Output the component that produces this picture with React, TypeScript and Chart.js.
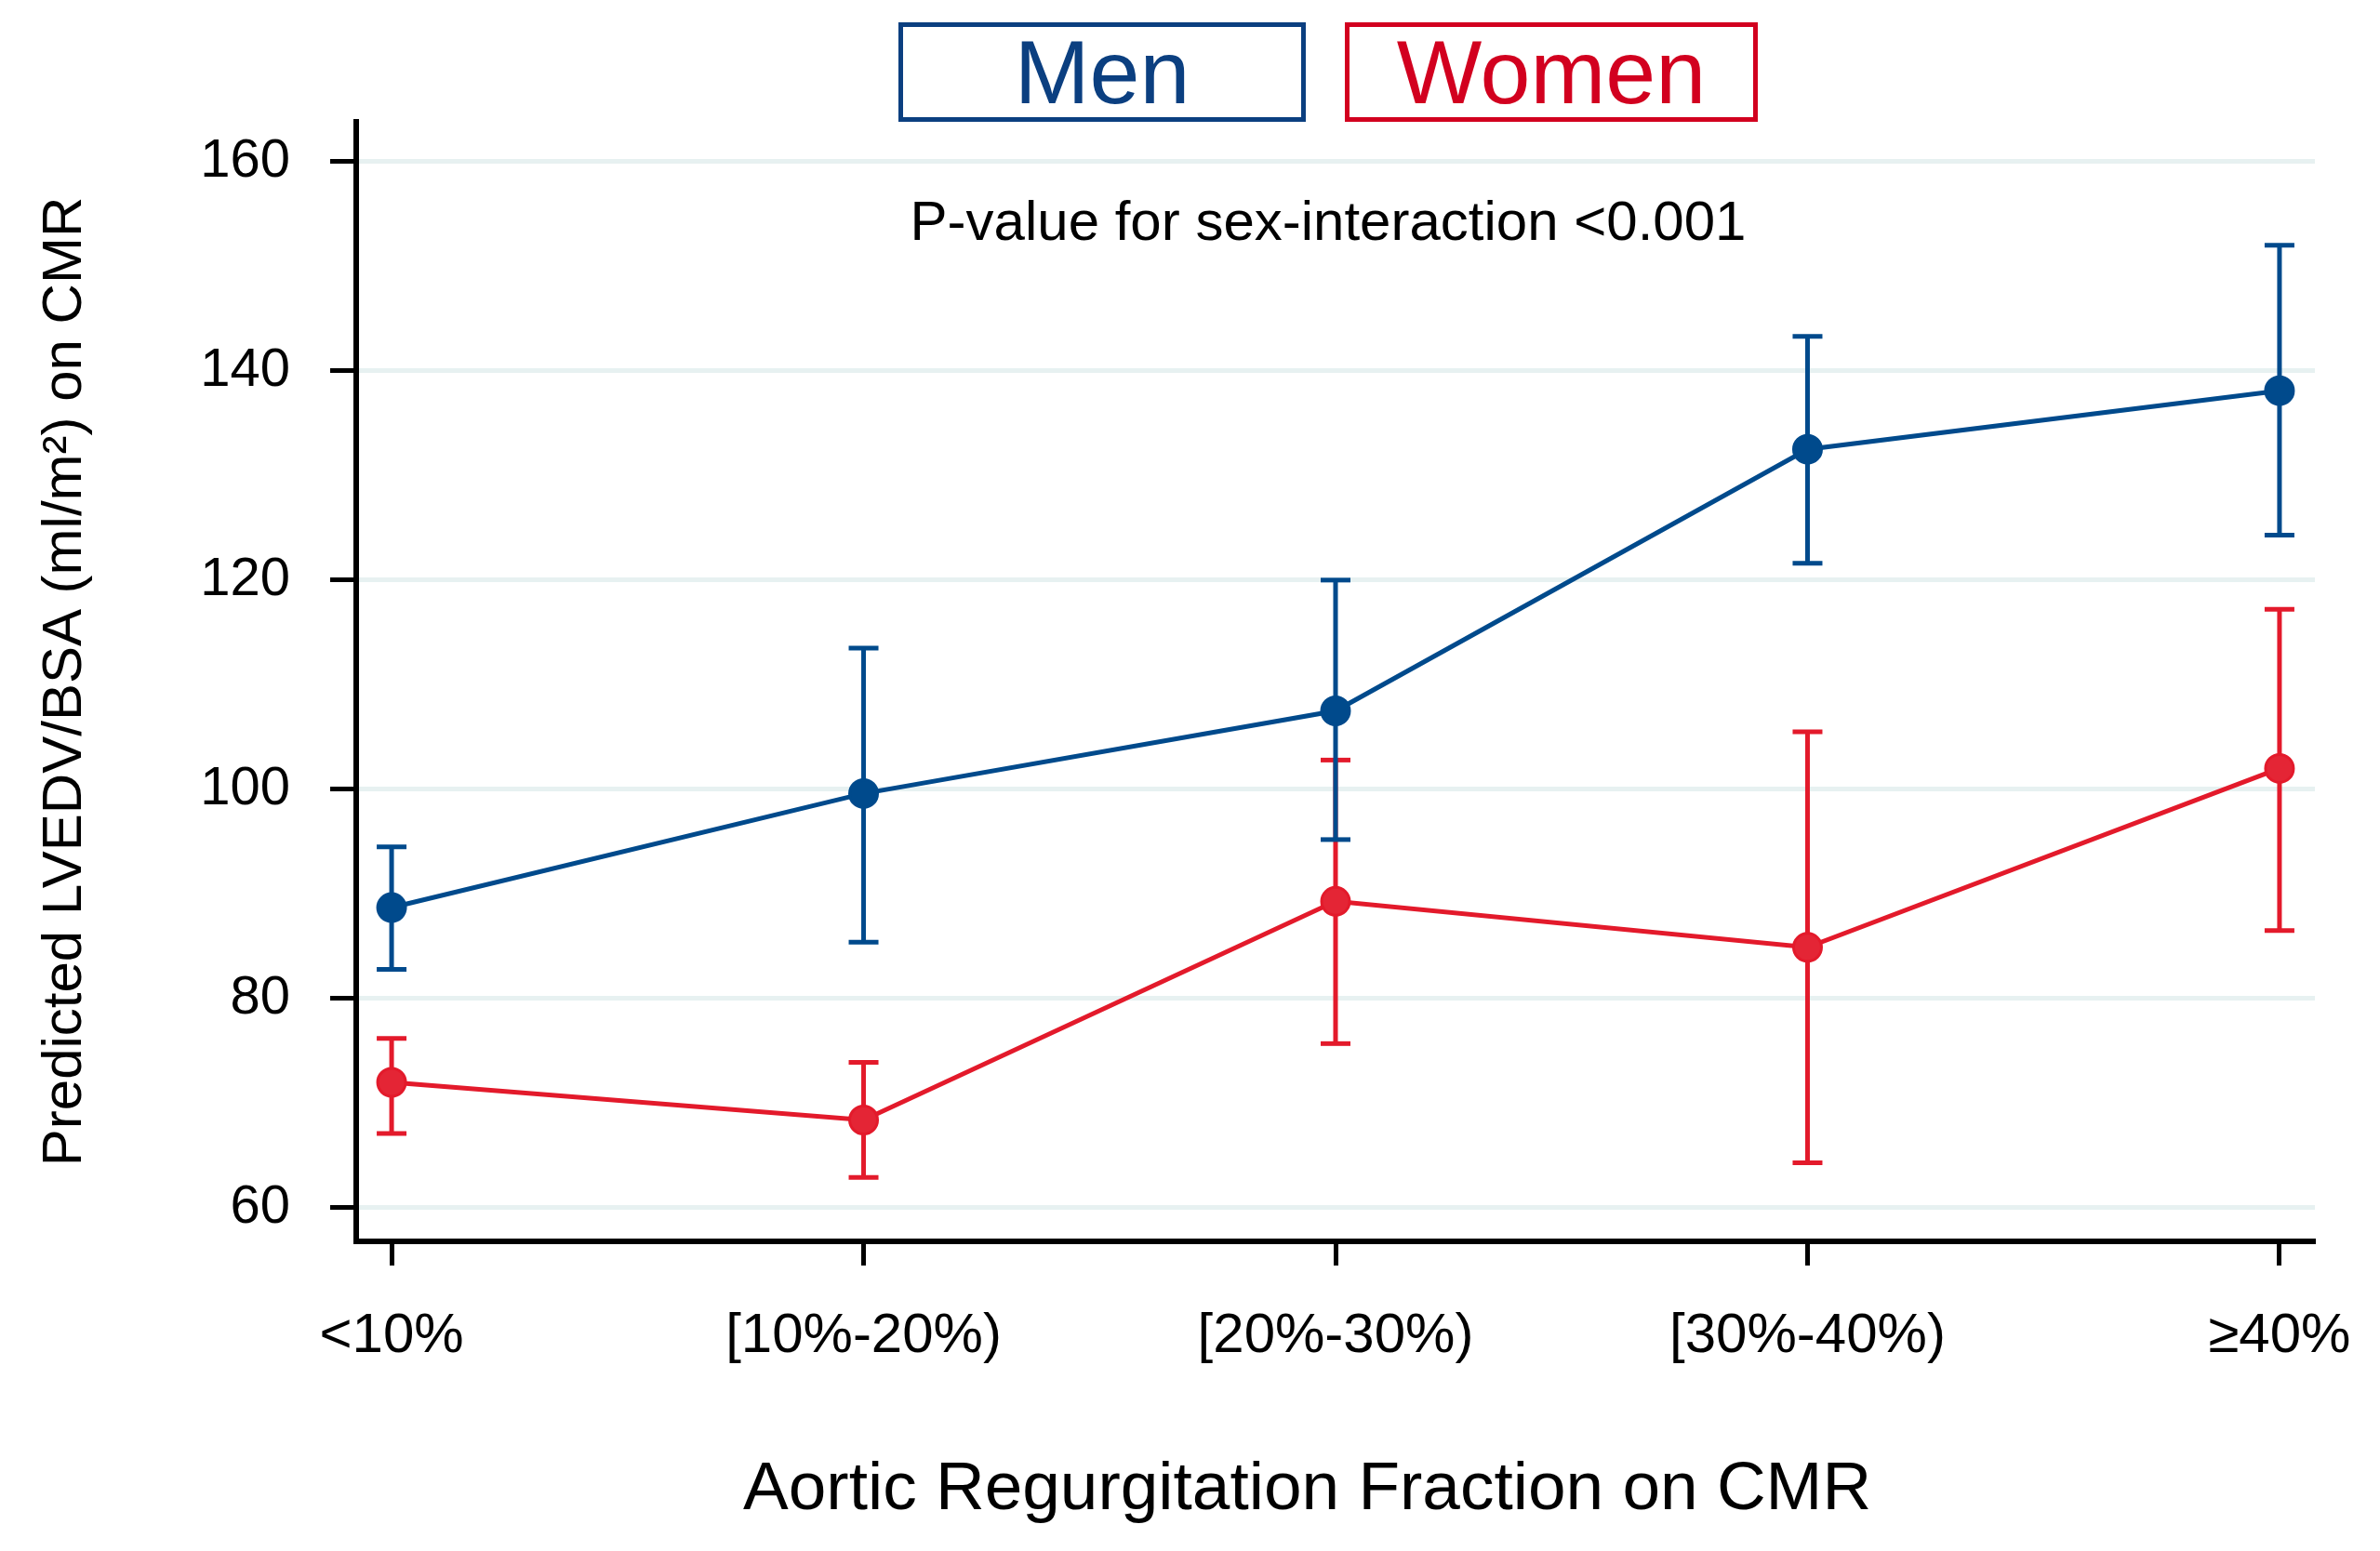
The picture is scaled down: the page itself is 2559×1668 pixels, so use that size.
import React, { useEffect, useRef } from "react";
import { Chart, registerables } from "chart.js";

Chart.register(...registerables);

const categories = ["<10%", "[10%-20%)", "[20%-30%)", "[30%-40%)", "≥40%"];
const yTickValues = [60, 80, 100, 120, 140, 160];

const menMean = [88.7, 99.6, 107.5, 132.5, 138.1];
const menLower = [82.8, 85.4, 95.2, 121.6, 124.3];
const menUpper = [94.5, 113.5, 120.0, 143.3, 152.0];

const womenMean = [72.0, 68.4, 89.3, 84.9, 102.0];
const womenLower = [67.1, 62.9, 75.7, 64.3, 86.5];
const womenUpper = [76.2, 73.9, 102.8, 105.5, 117.2];

const MEN = "#004a8c";
const WOMEN = "#e31a2b";
const FONT = "'Liberation Sans', Arial, Helvetica, sans-serif";

function errorBarSets(lo: number[], hi: number[], color: string, name: string) {
  return lo.map((l, i) => ({
    label: `${name} CI ${categories[i]}`,
    data: [
      { x: i, y: l },
      { x: i, y: hi[i] },
    ],
    borderColor: color,
    backgroundColor: color,
    borderWidth: 5,
    showLine: true,
    pointStyle: "line" as const,
    pointRadius: 16,
    pointBorderWidth: 5,
    pointBorderColor: color,
    pointBackgroundColor: color,
  }));
}

function lineSet(mean: number[], color: string, fill: string, name: string) {
  return {
    label: name,
    data: mean.map((v, i) => ({ x: i, y: v })),
    borderColor: color,
    backgroundColor: fill,
    borderWidth: 5,
    showLine: true,
    pointStyle: "circle" as const,
    pointRadius: 15,
    pointBorderWidth: 3,
    pointBorderColor: color,
    pointBackgroundColor: fill,
  };
}

export default function App() {
  const ref = useRef<HTMLCanvasElement | null>(null);

  useEffect(() => {
    document.body.style.margin = "0";
    document.body.style.overflow = "hidden";
    const canvas = ref.current;
    if (!canvas) return;
    const chart = new Chart(canvas, {
      type: "line",
      data: {
        datasets: [
          lineSet(menMean, MEN, MEN, "Men"),
          ...errorBarSets(menLower, menUpper, MEN, "Men"),
          lineSet(womenMean, WOMEN, "#e42535", "Women"),
          ...errorBarSets(womenLower, womenUpper, WOMEN, "Women"),
        ] as any,
      },
      options: {
        responsive: false,
        animation: false,
        devicePixelRatio: 1,
        events: [],
        layout: { padding: { top: 131, right: 70, left: 0, bottom: 0 } },
        plugins: {
          legend: { display: false },
          tooltip: { enabled: false },
          title: { display: false },
        },
        scales: {
          x: {
            type: "linear",
            min: -0.075,
            max: 4.075,
            afterFit: (s: any) => {
              s.height = 333;
              s.paddingLeft = 0;
              s.paddingRight = 0;
            },
            afterBuildTicks: (s: any) => {
              s.ticks = categories.map((_, i) => ({ value: i }));
            },
            border: { display: true, color: "#000", width: 6 },
            grid: {
              drawOnChartArea: false,
              drawTicks: true,
              tickLength: 26,
              tickWidth: 5,
              tickColor: "#000",
            },
            ticks: {
              autoSkip: false,
              maxRotation: 0,
              padding: 40,
              color: "#000",
              font: { family: FONT, size: 60 },
              callback: (v: any) => categories[Math.round(Number(v))] ?? "",
            },
            title: {
              display: true,
              text: "Aortic Regurgitation Fraction on CMR   ",
              color: "#000",
              font: { family: FONT, size: 73 },
              padding: { top: 0, bottom: 21 },
            },
          },
          y: {
            type: "linear",
            min: 56.8,
            max: 163.8,
            afterFit: (s: any) => {
              s.width = 383;
            },
            afterBuildTicks: (s: any) => {
              s.ticks = yTickValues.map((v) => ({ value: v }));
            },
            border: { display: true, color: "#000", width: 6 },
            grid: {
              drawOnChartArea: true,
              color: "#e7f1f1",
              lineWidth: 5,
              drawTicks: true,
              tickLength: 28,
              tickWidth: 5,
              tickColor: "#000",
            },
            ticks: {
              padding: 43,
              color: "#000",
              font: { family: FONT, size: 58 },
            },
            title: {
              display: true,
              text: "Predicted LVEDV/BSA (ml/m²) on CMR",
              color: "#000",
              font: { family: FONT, size: 60 },
              padding: { top: 34, bottom: 0 },
            },
          },
        },
      },
    });
    return () => chart.destroy();
  }, []);

  const legendBox = (left: number, width: number, color: string, text: string) => (
    <div
      style={{
        position: "absolute",
        left,
        top: 24,
        width,
        height: 107,
        boxSizing: "border-box",
        border: `5px solid ${color}`,
        display: "flex",
        alignItems: "center",
        justifyContent: "center",
        color,
        fontFamily: FONT,
        fontSize: 97,
        lineHeight: 1,
        background: "#fff",
      }}
    >
      {text}
    </div>
  );

  return (
    <div
      style={{
        position: "relative",
        width: 2559,
        height: 1668,
        background: "#fff",
        overflow: "hidden",
      }}
    >
      <canvas
        ref={ref}
        width={2559}
        height={1668}
        style={{ position: "absolute", left: 0, top: 0, width: 2559, height: 1668, display: "block" }}
      />
      {legendBox(966, 438, "#0b3f80", "Men")}
      {legendBox(1446, 444, "#d2001f", "Women")}
      <div
        style={{
          position: "absolute",
          left: 1428,
          top: 238,
          transform: "translate(-50%, -50%)",
          fontFamily: FONT,
          fontSize: 60,
          lineHeight: 1,
          color: "#000",
          whiteSpace: "nowrap",
        }}
      >
        P-value for sex-interaction &lt;0.001
      </div>
    </div>
  );
}
